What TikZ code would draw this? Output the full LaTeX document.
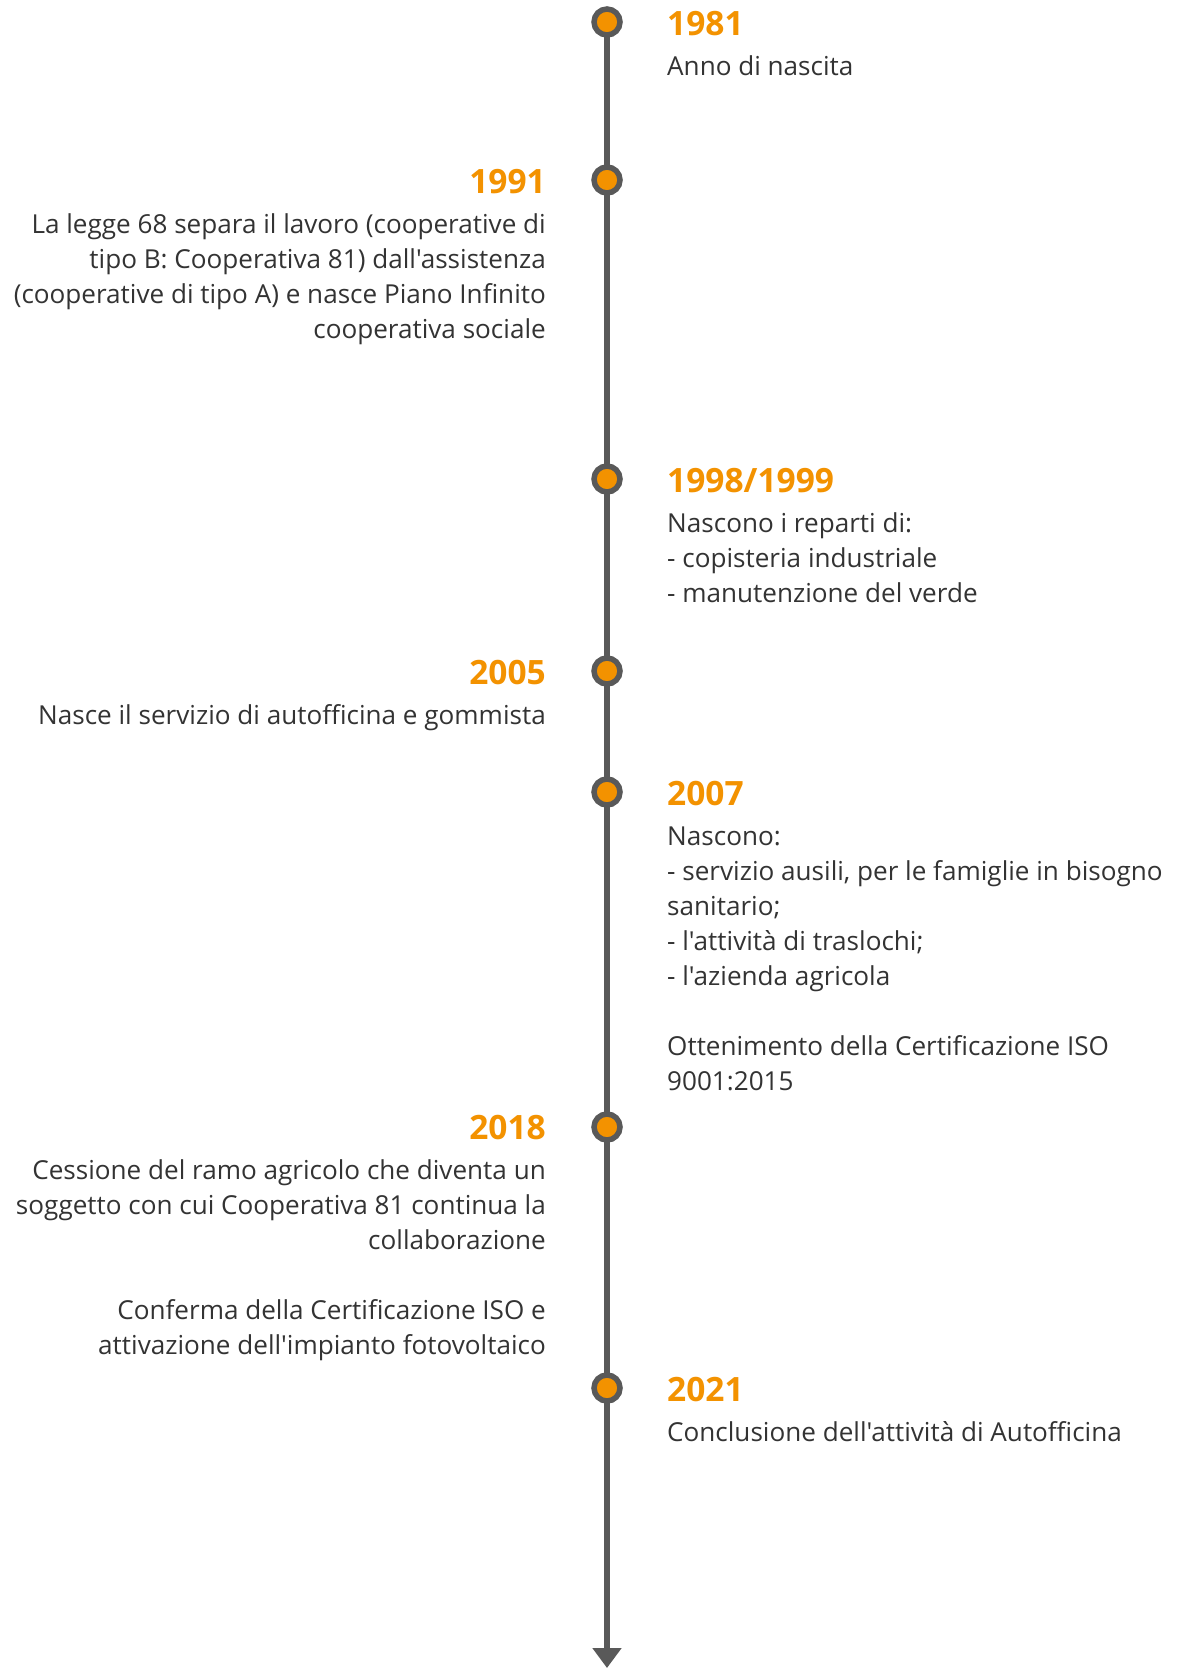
\documentclass[tikz,border=0pt]{standalone}
\usepackage{fontspec}
\setmainfont{Open Sans}[Ligatures=TeXOff]
\usetikzlibrary{arrows.meta}
\definecolor{tlorange}{HTML}{F39200}
\definecolor{tlgray}{HTML}{595959}
\definecolor{tltext}{HTML}{333333}
\newcommand{\tlstrut}{\rule{0pt}{30pt}}
\begin{document}
\begin{tikzpicture}[x=1pt,y=-1pt,
  year/.style={font=\fontsize{33.5}{40}\selectfont\bfseries, text=tlorange, inner sep=0pt},
  desc/.style={font=\fontsize{26.1}{35}\selectfont, text=tltext, inner sep=0pt},
  dot/.style={circle, draw=tlgray, line width=5.5pt, fill=tlorange, minimum size=26pt, inner sep=0pt},
  axis/.style={line width=6pt, draw=tlgray, -{Triangle[width=28pt,length=20pt]}}]
\fill[white] (0,0) rectangle (1176,1668);
\useasboundingbox (0,0) rectangle (1176,1668);
\coordinate (top) at (607,22);
\coordinate (bottom) at (607,1668);
\draw[axis] (top) -- (bottom);
% dots
\node[dot] (d1981) at (607,22) {};
\node[dot] (d1991) at (607,180) {};
\node[dot] (d1998) at (607,479) {};
\node[dot] (d2005) at (607,671) {};
\node[dot] (d2007) at (607,792) {};
\node[dot] (d2018) at (607,1127) {};
\node[dot] (d2021) at (607,1388) {};
% 1981
\node[year, anchor=base west] (y1981) at (667,35) {1981};
\node[desc, anchor=north west, align=left] (t1981) at (667,45) {\tlstrut Anno di nascita};
% 1991
\node[year, anchor=base east] (y1991) at (546,193) {1991};
\node[desc, anchor=north east, align=right] (t1991) at (546,203) {\tlstrut La legge 68 separa il lavoro (cooperative di\\tipo B: Cooperativa 81) dall'assistenza\\(cooperative di tipo A) e nasce Piano Infinito\\cooperativa sociale};
% 1998
\node[year, anchor=base west] (y1998) at (667,492) {1998/1999};
\node[desc, anchor=north west, align=left] (t1998) at (667,502) {\tlstrut Nascono i reparti di:\\- copisteria industriale\\- manutenzione del verde};
% 2005
\node[year, anchor=base east] (y2005) at (546,684) {2005};
\node[desc, anchor=north east, align=right] (t2005) at (546,694) {\tlstrut Nasce il servizio di autofficina e gommista};
% 2007
\node[year, anchor=base west] (y2007) at (667,805) {2007};
\node[desc, anchor=north west, align=left] (t2007) at (667,815) {\tlstrut Nascono:\\- servizio ausili, per le famiglie in bisogno\\sanitario;\\- l'attività di traslochi;\\- l'azienda agricola\\[35pt]Ottenimento della Certificazione ISO\\9001:2015};
% 2018
\node[year, anchor=base east] (y2018) at (546,1139) {2018};
\node[desc, anchor=north east, align=right] (t2018) at (546,1149) {\tlstrut Cessione del ramo agricolo che diventa un\\soggetto con cui Cooperativa 81 continua la\\collaborazione\\[35pt]Conferma della Certificazione ISO e\\attivazione dell'impianto fotovoltaico};
% 2021
\node[year, anchor=base west] (y2021) at (667,1401) {2021};
\node[desc, anchor=north west, align=left] (t2021) at (667,1411) {\tlstrut Conclusione dell'attività di Autofficina};
\end{tikzpicture}
\end{document}
